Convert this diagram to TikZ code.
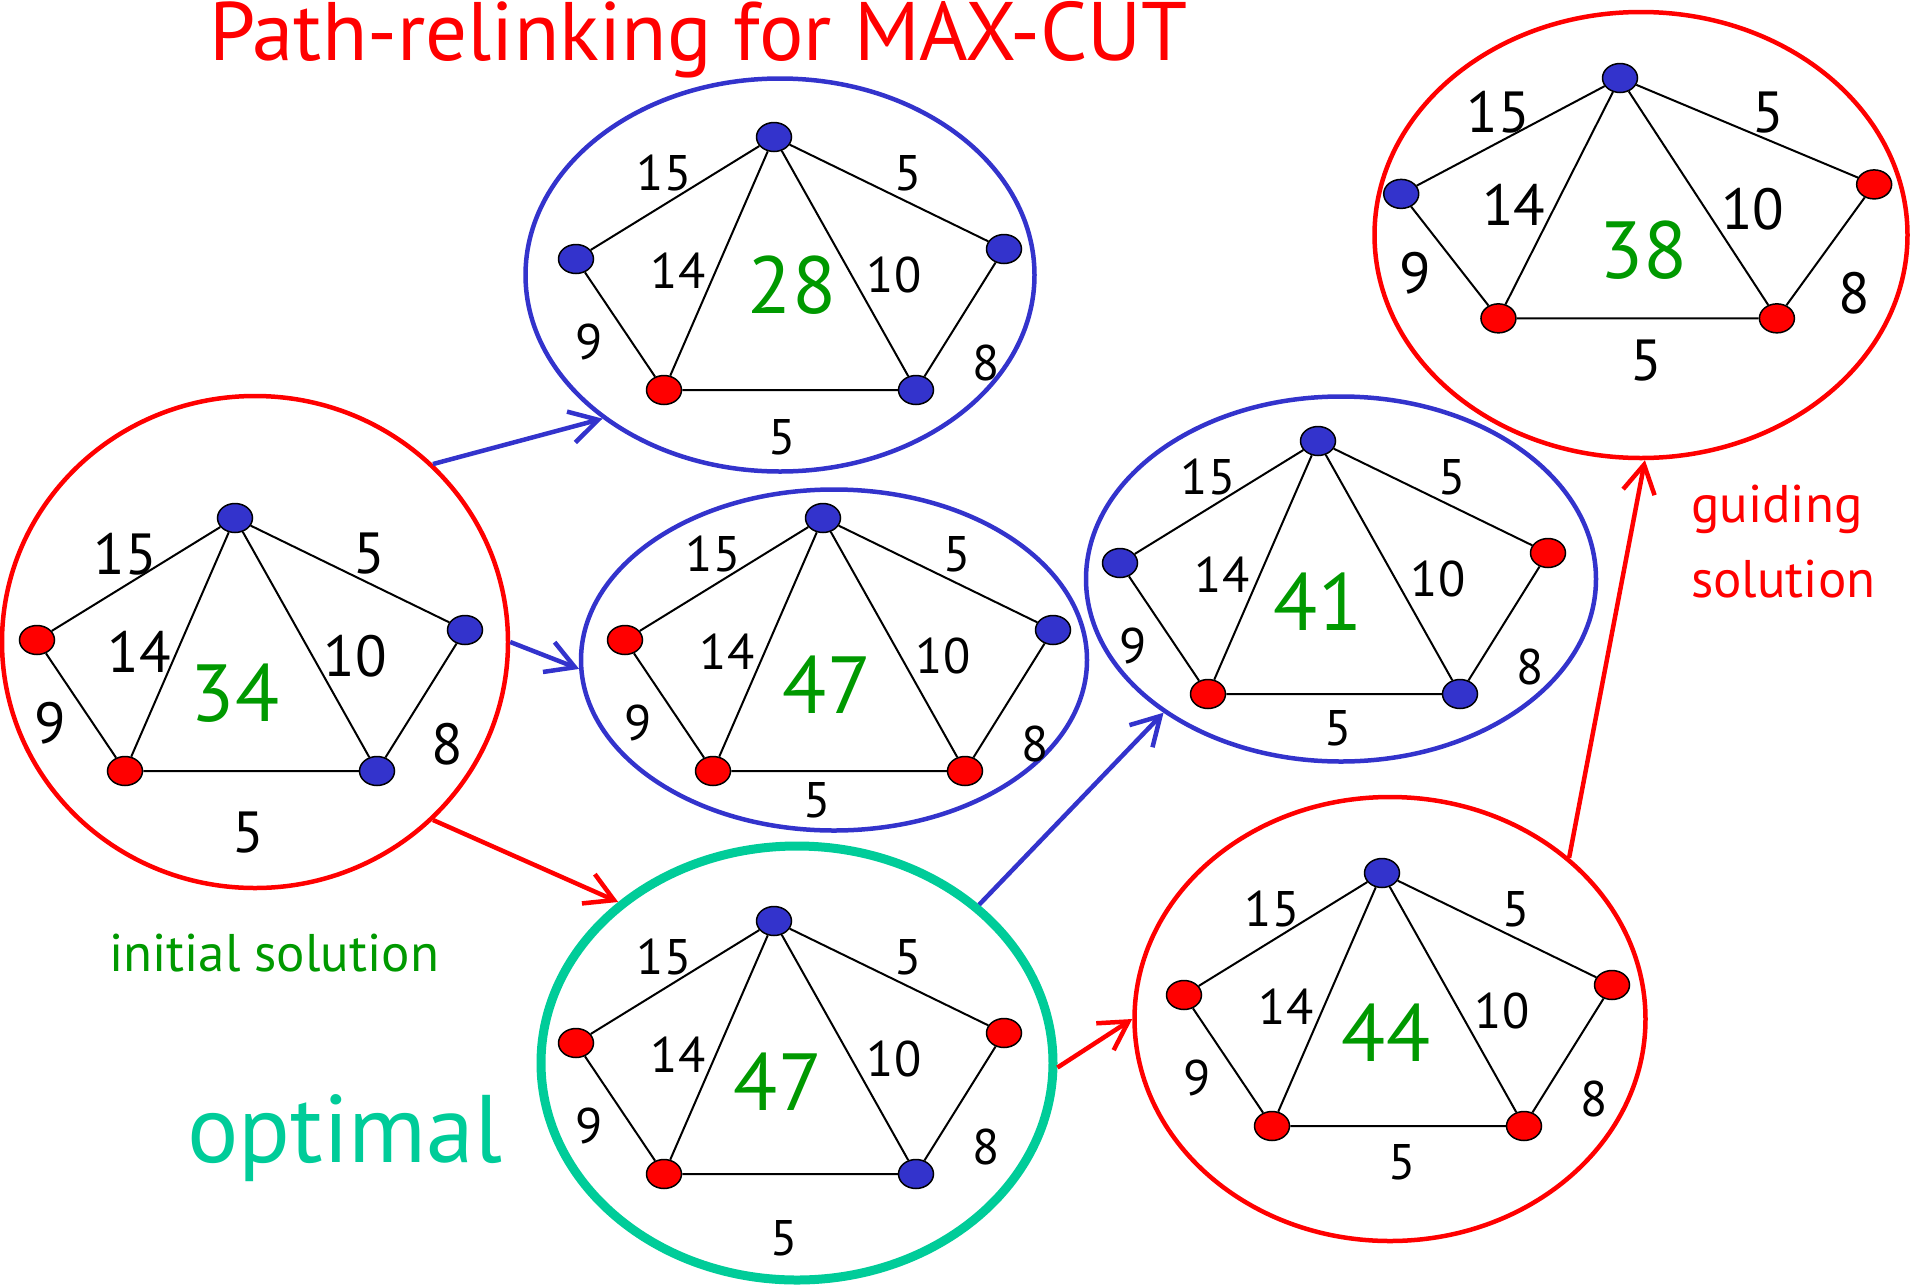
\documentclass[tikz,border=0pt]{standalone}
\usepackage{fontspec}
\setmainfont{PT Sans}
\usetikzlibrary{shapes.geometric,arrows.meta}
\definecolor{cred}{HTML}{FF0000}
\definecolor{cblue}{HTML}{3333CC}
\definecolor{cgreen}{HTML}{009900}
\definecolor{cteal}{HTML}{00CC99}

\tikzset{num at/.code 2 args={\def\cutnumx{#1}\def\cutnumy{#2}},
  low at/.code 2 args={\def\cutlowx{#1}\def\cutlowy{#2}},
  num at={4}{163}, low at={10}{300}}

\newcommand{\cutgraph}[9]{%
  \begin{scope}[shift={#2},#3]
    \node[vtx,fill=#4] (#1top) at (0,0) {};
    \node[vtx,fill=#5] (#1left) at (-198,122) {};
    \node[vtx,fill=#6] (#1botl) at (-110,253) {};
    \node[vtx,fill=#7] (#1botr) at (142,253) {};
    \node[vtx,fill=#8] (#1right) at (230,112) {};
    \draw[link] (#1left) -- (#1top) -- (#1right) -- (#1botr) -- (#1botl) -- (#1left);
    \draw[link] (#1botl) -- (#1top) -- (#1botr);
    \node[wt] (#1w15) at (-110,36) {15};
    \node[wt] (#1w5) at (134,36) {5};
    \node[wt] (#1w14) at (-96,134) {14};
    \node[wt] (#1w10) at (120,138) {10};
    \node[wt] (#1w9) at (-185,205) {9};
    \node[wt] (#1w8) at (212,226) {8};
    \node[wt] (#1wlow) at (\cutlowx,\cutlowy) {5};
    \node[val] (#1cut) at (\cutnumx,\cutnumy) {#9};
  \end{scope}}

\begin{document}
\begin{tikzpicture}[x=1pt,y=-1pt,
  vtx/.style={ellipse,draw=black,line width=1.5pt,minimum width=35pt,minimum height=29pt,inner sep=0pt},
  link/.style={line width=2pt},
  wt/.style={inner sep=0pt,font=\fontsize{50}{60}\selectfont},
  bigwt/.style={wt/.append style={font=\fontsize{58}{70}\selectfont}},
  val/.style={inner sep=0pt,text=cgreen,font=\fontsize{81}{90}\selectfont},
  ring/.style={ellipse,line width=4.5pt,inner sep=0pt},
  arr/.style={line width=4.5pt,-{Straight Barb[length=28pt,width=32pt]}},
  headline/.style={anchor=base west,inner sep=0pt,text=cred,font=\fontsize{83}{90}\selectfont},
  note/.style={anchor=base west,inner sep=0pt,font=\fontsize{53}{60}\selectfont}]
\useasboundingbox (0,0) rectangle (1912,1288);
\node[headline] (head) at (209,60) {Path-relinking for MAX-CUT};
\node[ring,draw=cred,minimum width=506pt,minimum height=492pt] (init) at (255,642) {};
\node[ring,draw=cblue,minimum width=509pt,minimum height=393pt] (alt28) at (780,275) {};
\node[ring,draw=cblue,minimum width=506pt,minimum height=341pt] (alt47) at (834,660) {};
\node[ring,draw=cteal,line width=9pt,minimum width=512pt,minimum height=434pt] (opt) at (797,1063) {};
\node[ring,draw=cblue,minimum width=510pt,minimum height=365pt] (alt41) at (1341,579) {};
\node[ring,draw=cred,minimum width=511pt,minimum height=444pt] (alt44) at (1390,1019) {};
\node[ring,draw=cred,minimum width=533pt,minimum height=446pt] (guide) at (1641,235) {};
\cutgraph{gi}{(235,518)}{bigwt,num at={0}{175},low at={13}{315}}{cblue}{cred}{cred}{cblue}{cblue}{34}
\cutgraph{ga}{(774,137)}{num at={18}{148},low at={8}{300}}{cblue}{cblue}{cred}{cblue}{cblue}{28}
\cutgraph{gb}{(823,518)}{num at={4}{167},low at={-6}{282}}{cblue}{cred}{cred}{cred}{cblue}{47}
\cutgraph{go}{(774,921)}{num at={4}{161},low at={10}{317}}{cblue}{cred}{cred}{cblue}{cred}{47}
\cutgraph{gc}{(1318,441)}{num at={0}{161},low at={20}{287}}{cblue}{cblue}{cred}{cblue}{cred}{41}
\cutgraph{gd}{(1382,873)}{num at={4}{160},low at={20}{289}}{cblue}{cred}{cred}{cred}{cred}{44}
\cutgraph{gg}{(1620,78)}{xscale=1.105,yscale=0.95,bigwt,num at={21}{181},low at={24}{297}}{cblue}{cblue}{cred}{cred}{cred}{38}
\draw[arr,cblue] (init.45) -- (alt28.219);
\draw[arr,cblue] (init.0) -- (alt47.182);
\draw[arr,cred] (init.-45) -- (opt.138);
\draw[arr,cblue] (opt.41) -- (alt41.217);
\draw[arr,cred] (opt.-1) -- (alt44.180);
\draw[arr,cred] (alt44.42) -- (guide.271);
\node[note,text=cgreen] (initlabel) at (109,971) {initial solution};
\node[note,text=cteal,font=\fontsize{96}{100}\selectfont] (optlabel) at (187,1162) {optimal};
\node[note,text=cred] (guidelabel) at (1691,522) {guiding};
\node[note,text=cred] (guidelabel2) at (1691,597) {solution};
\end{tikzpicture}
\end{document}
